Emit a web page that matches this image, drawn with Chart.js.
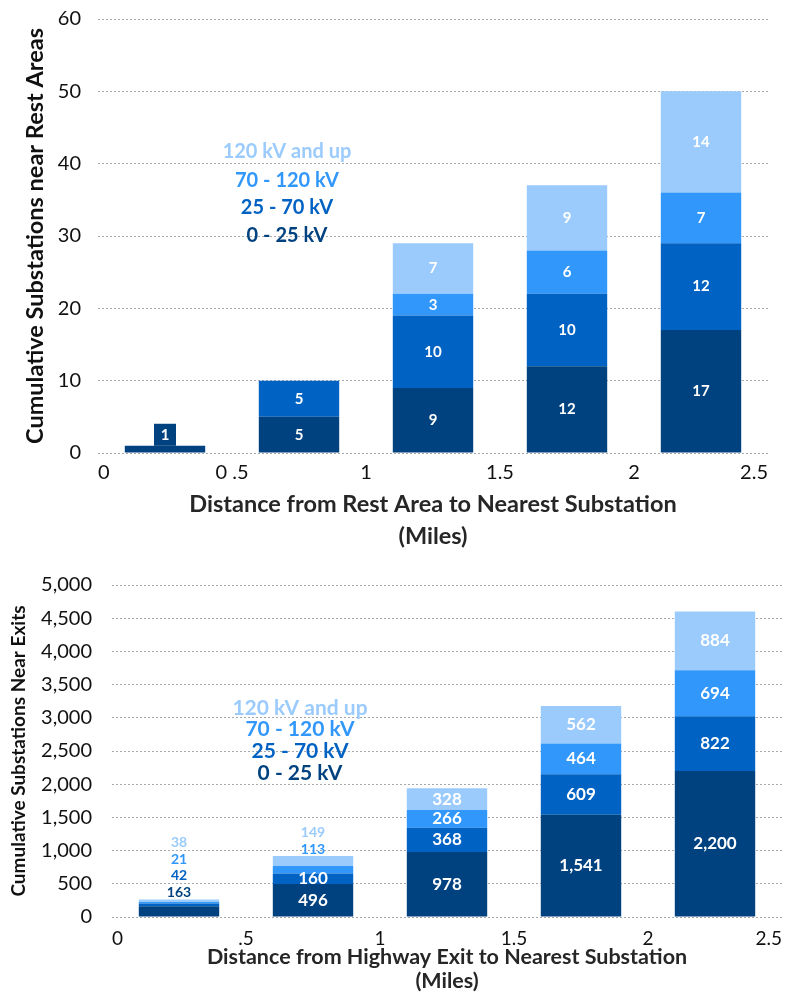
<!DOCTYPE html>
<html>
<head>
<meta charset="utf-8">
<script src="https://cdn.jsdelivr.net/npm/chart.js@4.4.1/dist/chart.umd.min.js"></script>
<style>
  body { margin: 0; background: #fff; }
  canvas { position: absolute; left: 0; }
  #restChart { top: 0; }
  #exitChart { top: 560px; }
</style>
</head>
<body>
<canvas id="restChart" width="786" height="556"></canvas>
<canvas id="exitChart" width="786" height="436"></canvas>
<script>
// series shared by both charts
const seriesNames = ['0 - 25 kV', '25 - 70 kV', '70 - 120 kV', '120 kV and up'];
const seriesColors = ['#00427F', '#0062C2', '#3197FA', '#9BCBFC'];

// rest areas
const restCategories = ['0 - 0.5', '0.5 - 1', '1 - 1.5', '1.5 - 2', '2 - 2.5'];
const rest0to25 = [1, 5, 9, 12, 17];
const rest25to70 = [0, 5, 10, 10, 12];
const rest70to120 = [0, 0, 3, 6, 7];
const rest120up = [0, 0, 7, 9, 14];
const restXTicks = ['0', '0 .5', '1', '1.5', '2', '2.5'];

// highway exits
const exitCategories = ['0 - .5', '.5 - 1', '1 - 1.5', '1.5 - 2', '2 - 2.5'];
const exit0to25 = [163, 496, 978, 1541, 2200];
const exit25to70 = [42, 160, 368, 609, 822];
const exit70to120 = [21, 113, 266, 464, 694];
const exit120up = [38, 149, 328, 562, 884];
const exitXTicks = ['0', '.5', '1', '1.5', '2', '2.5'];

const FONT = 'Lato, "Open Sans", sans-serif';

// value labels inside the segments, small ones stacked above the bar
const segmentLabels = {
    id: 'segmentLabels',
    afterDatasetsDraw(chart, args, o) {
        const ctx = chart.ctx;
        const sets = chart.data.datasets;
        ctx.save();
        ctx.textAlign = 'center';
        ctx.textBaseline = 'middle';
        chart.data.labels.forEach((lab, i) => {
            const nOut = o.outside[i] || 0;
            let top = null;
            sets.forEach((ds, d) => {
                const el = chart.getDatasetMeta(d).data[i];
                if (ds.data[i]) top = top === null ? el.y : Math.min(top, el.y);
            });
            let k = 0;
            sets.forEach((ds, d) => {
                const v = ds.data[i];
                if (!v) return;
                const el = chart.getDatasetMeta(d).data[i];
                const txt = v.toLocaleString('en-US');
                if (d >= sets.length - nOut) {
                    ctx.font = o.outFont;
                    if (o.boxed) {
                        ctx.fillStyle = ds.backgroundColor;
                        ctx.fillRect(el.x - o.boxSize / 2, top - o.boxSize, o.boxSize, o.boxSize);
                        ctx.fillStyle = '#fff';
                        ctx.fillText(txt, el.x, top - o.boxSize / 2);
                    } else {
                        ctx.fillStyle = ds.backgroundColor;
                        ctx.fillText(txt, el.x, top - o.outGap - k * o.outStep);
                    }
                    k++;
                } else {
                    ctx.font = o.inFont;
                    ctx.fillStyle = '#fff';
                    ctx.fillText(txt, el.x, (el.y + el.base) / 2);
                }
            });
        });
        ctx.restore();
    }
};

// legend written as a text column, top series first
const stackLegend = {
    id: 'stackLegend',
    afterDraw(chart, args, o) {
        const ctx = chart.ctx;
        const sets = chart.data.datasets;
        ctx.save();
        ctx.font = o.font;
        ctx.textAlign = 'center';
        ctx.textBaseline = 'middle';
        for (let d = sets.length - 1, row = 0; d >= 0; d--, row++) {
            ctx.fillStyle = sets[d].backgroundColor;
            ctx.fillText(sets[d].label, o.x, o.ys[row]);
        }
        ctx.restore();
    }
};

function makeChart(id, s) {
    const datasets = s.series.map((data, d) => ({
        label: seriesNames[d],
        data: data,
        backgroundColor: seriesColors[d],
        borderWidth: 0,
        barPercentage: 0.6,
        categoryPercentage: 1
    }));
    return new Chart(document.getElementById(id), {
        type: 'bar',
        data: { labels: s.categories, datasets: datasets },
        plugins: [segmentLabels, stackLegend],
        options: {
            responsive: false,
            animation: false,
            layout: { padding: s.padding },
            plugins: {
                legend: { display: false },
                tooltip: { enabled: false },
                segmentLabels: s.labels,
                stackLegend: s.legend
            },
            scales: {
                x: { display: false, stacked: true },
                x2: {
                    type: 'linear',
                    position: 'bottom',
                    offset: false,
                    min: 0,
                    max: 2.5,
                    grid: { display: false, offset: false },
                    border: { display: false },
                    ticks: {
                        stepSize: 0.5,
                        autoSkip: false,
                        maxRotation: 0,
                        align: 'inner',
                        padding: s.xTickPad,
                        color: '#111',
                        font: { family: FONT, size: s.xTickSize },
                        callback: (v, i) => s.xTicks[i]
                    },
                    title: {
                        display: true,
                        text: s.xTitle,
                        color: '#262626',
                        font: { family: FONT, size: s.xTitleSize, weight: 'bold', lineHeight: s.xTitleLH },
                        padding: { top: 0, bottom: s.xTitlePad }
                    },
                    afterFit(scale) {
                        scale.height = s.xHeight;
                        scale.paddingLeft = 0;
                        scale.paddingRight = 0;
                    }
                },
                y: {
                    stacked: true,
                    min: 0,
                    max: s.yMax,
                    border: { display: false, dash: [2, 2] },
                    grid: { color: '#a8a8a8', lineWidth: 1, drawTicks: false },
                    ticks: {
                        stepSize: s.yStep,
                        padding: s.yTickPad,
                        color: '#111',
                        font: { family: FONT, size: s.yTickSize },
                        callback: v => v.toLocaleString('en-US')
                    },
                    title: {
                        display: true,
                        text: s.yTitle,
                        color: '#111',
                        font: { family: FONT, size: s.yTitleSize, weight: 'bold' },
                        padding: { top: s.yTitlePad, bottom: 0 }
                    },
                    afterFit(scale) {
                        scale.width = s.yWidth;
                        scale.paddingTop = 0;
                        scale.paddingBottom = 0;
                    }
                }
            }
        }
    });
}

makeChart('restChart', {
    categories: restCategories,
    series: [rest0to25, rest25to70, rest70to120, rest120up],
    xTicks: restXTicks,
    padding: { top: 19, right: 18, left: 0, bottom: 0 },
    yMax: 60, yStep: 10,
    yWidth: 98, yTickPad: 17, yTickSize: 20,
    yTitle: 'Cumulative Substations near Rest Areas', yTitleSize: 23.5, yTitlePad: 21,
    xHeight: 103, xTickPad: 0, xTickSize: 20,
    xTitle: ['Distance from Rest Area to Nearest Substation', '(Miles)'],
    xTitleSize: 23.5, xTitleLH: 1.34, xTitlePad: 4,
    labels: { outside: [4], boxed: true, boxSize: 22, outFont: 'bold 15px ' + FONT, inFont: 'bold 15px ' + FONT },
    legend: { x: 287, ys: [152, 181, 208, 236], font: 'bold 20px ' + FONT }
});

makeChart('exitChart', {
    categories: exitCategories,
    series: [exit0to25, exit25to70, exit70to120, exit120up],
    xTicks: exitXTicks,
    padding: { top: 25, right: 4, left: 0, bottom: 0 },
    yMax: 5000, yStep: 500,
    yWidth: 112, yTickPad: 20, yTickSize: 20,
    yTitle: 'Cumulative Substations Near Exits', yTitleSize: 19, yTitlePad: 7,
    xHeight: 79, xTickPad: 2, xTickSize: 19,
    xTitle: ['Distance from Highway Exit to Nearest Substation', '(Miles)'],
    xTitleSize: 21.5, xTitleLH: 1.12, xTitlePad: 3,
    labels: { outside: [4, 2], boxed: false, outGap: 7, outStep: 16.5, outFont: 'bold 14px ' + FONT, inFont: 'bold 17px ' + FONT },
    legend: { x: 300, ys: [148, 169, 191, 213], font: 'bold 21px ' + FONT }
});
</script>
</body>
</html>
